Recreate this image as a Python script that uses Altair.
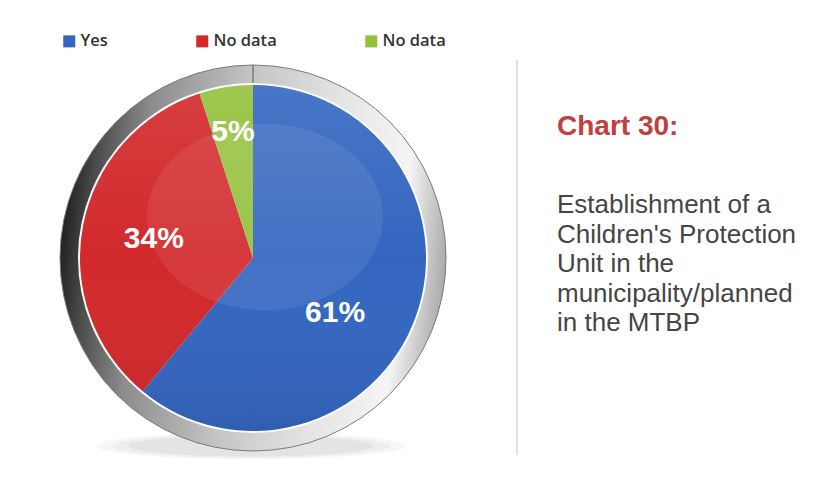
import json
import altair as alt
import pandas as pd

# ---- data ----
categories = ["Yes", "No data", "No data"]
values = [61, 34, 5]
labels = ["61%", "34%", "5%"]
colors = ["#3466c0", "#d2292b", "#93c13b"]
title_text = "Chart 30:"
desc_lines = ["Establishment of a", "Children's Protection", "Unit in the",
              "municipality/planned", "in the MTBP"]

keys = [str(i) for i in range(len(categories))]
df = pd.DataFrame({"key": keys, "idx": list(range(len(categories))),
                   "value": values, "label": labels})

W = H = 400
L, T = 45, 50
CX, CY = W / 2, H / 2
TAU = 6.283185307

base = alt.Chart(df)
theta = alt.Theta("value:Q", stack=True)
order = alt.Order("idx:Q")

label_expr = json.dumps(categories) + "[toNumber(datum.value)]"
color = alt.Color(
    "key:N",
    scale=alt.Scale(domain=keys, range=colors),
    legend=alt.Legend(
        orient="none", legendX=8, legendY=-25, direction="horizontal",
        title=None, symbolType="square", symbolSize=144, symbolStrokeWidth=0,
        labelFont="Open Sans", labelFontSize=16.5, labelFontWeight=600,
        labelColor="#333333",
        columnPadding=86, labelOffset=3, padding=0, labelExpr=label_expr,
    ),
)

one = alt.Chart(pd.DataFrame({"a": [0]}))

ellipse_shadow = "M-1,0A1,0.085,0,1,0,1,0A1,0.085,0,1,0,-1,0Z"
shadows = [
    one.mark_point(shape=ellipse_shadow, filled=True, fill="#000000",
                   opacity=op, size=s, strokeWidth=0)
    .encode(x=alt.value(CX - 2), y=alt.value(CY + 188))
    for s, op in [(96000, 0.03), (78000, 0.035), (60000, 0.04)]
]

ring_grad = alt.Gradient(
    gradient="linear", x1=0, y1=0.45, x2=1, y2=0.55,
    stops=[
        alt.GradientStop(offset=0.0, color="#1f1f1f"),
        alt.GradientStop(offset=0.07, color="#4a4a4a"),
        alt.GradientStop(offset=0.2, color="#8c8c8c"),
        alt.GradientStop(offset=0.45, color="#c4c4c4"),
        alt.GradientStop(offset=0.7, color="#e6e6e6"),
        alt.GradientStop(offset=0.88, color="#f4f4f4"),
        alt.GradientStop(offset=1.0, color="#a8a8a8"),
    ],
)
ring = one.mark_arc(theta=0, theta2=TAU, innerRadius=174, outerRadius=193,
                    fill=ring_grad, stroke="#7a7a7a", strokeWidth=1).encode(
    x=alt.value(CX), y=alt.value(CY))

white_line = one.mark_arc(theta=0, theta2=TAU, innerRadius=172, outerRadius=175,
                          fill="#ffffff").encode(x=alt.value(CX), y=alt.value(CY))

pie = base.mark_arc(outerRadius=173).encode(theta=theta, order=order, color=color)

shade_grad = alt.Gradient(
    gradient="linear", x1=0, y1=0, x2=0, y2=1,
    stops=[
        alt.GradientStop(offset=0.0, color="rgba(255,255,255,0.10)"),
        alt.GradientStop(offset=0.5, color="rgba(255,255,255,0.0)"),
        alt.GradientStop(offset=1.0, color="rgba(0,0,0,0.08)"),
    ],
)
shade = one.mark_arc(theta=0, theta2=TAU, outerRadius=173, fill=shade_grad).encode(
    x=alt.value(CX), y=alt.value(CY))

ellipse_hl = "M-1,0A1,0.79,0,1,0,1,0A1,0.79,0,1,0,-1,0Z"
highlight = one.mark_point(shape=ellipse_hl, filled=True, fill="#ffffff",
                           opacity=0.08, size=55696, strokeWidth=0).encode(
    x=alt.value(CX + 12), y=alt.value(CY - 41))

label_style = {0: (100, -12, 21), 1: (101, 0, 0), 2: (128, 0, 0)}
texts = []
for i, (r, dx, dy) in label_style.items():
    texts.append(
        base.mark_text(radius=r, dx=dx, dy=dy, fontSize=30, fontWeight="bold",
                       font="Liberation Sans", color="#ffffff").encode(
            theta=theta, order=order, text="label:N",
            opacity=alt.condition(f"datum.idx == {i}", alt.value(1), alt.value(0)),
        )
    )

divider = one.mark_rule(color="#d8d8d8", strokeWidth=1.5).encode(
    x=alt.value(464), y=alt.value(2), y2=alt.value(397))

title_mark = one.mark_text(align="left", baseline="alphabetic", fontSize=28,
                           fontWeight="bold", font="Liberation Sans",
                           color="#c0403e").encode(
    x=alt.value(504), y=alt.value(77), text=alt.value(title_text))

desc_mark = one.mark_text(align="left", baseline="alphabetic", fontSize=26,
                          font="Liberation Sans", color="#454545",
                          lineHeight=29.5).encode(
    x=alt.value(504), y=alt.value(155), text=alt.value(desc_lines))

chart = alt.layer(
    *shadows, ring, white_line, pie, shade, highlight, *texts,
    divider, title_mark, desc_mark,
).properties(
    width=W, height=H, autosize="none",
    padding={"left": L, "top": T, "right": 803 - L - W, "bottom": 479 - T - H},
    background="#ffffff",
).configure_view(stroke=None)

chart.save("out.html", embed_options={"renderer": "svg", "actions": False})
